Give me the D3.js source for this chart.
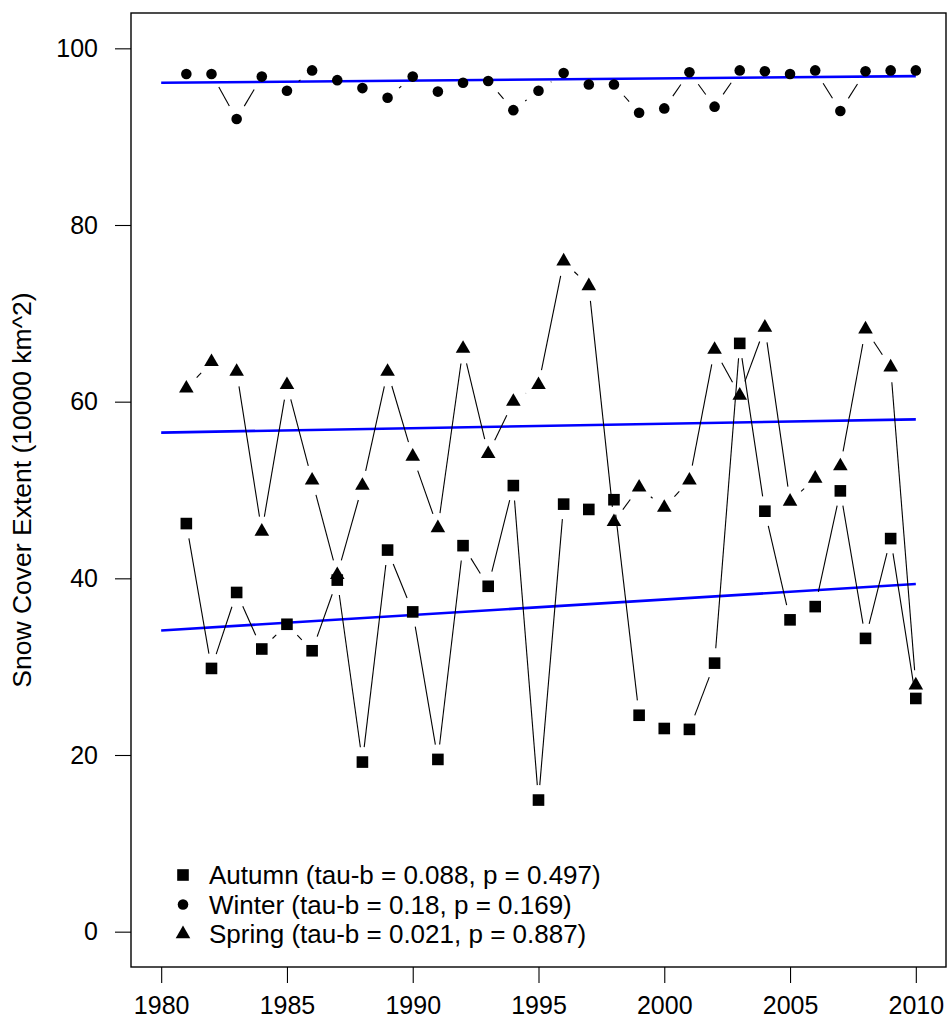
<!DOCTYPE html>
<html>
<head>
<meta charset="utf-8">
<script src="https://cdn.jsdelivr.net/npm/d3@7"></script>
<style>
  body { margin: 0; background: #fff; }
  svg text { font-family: "Liberation Sans", Arial, sans-serif; fill: #000; }
</style>
</head>
<body>
<div id="chart"></div>
<script>
// seasonal snow cover extent, 10000 km^2
const years = [1981, 1982, 1983, 1984, 1985, 1986, 1987, 1988, 1989, 1990,
  1991, 1992, 1993, 1994, 1995, 1996, 1997, 1998, 1999, 2000,
  2001, 2002, 2003, 2004, 2005, 2006, 2007, 2008, 2009, 2010];

const autumn = [46.2, 29.8, 38.4, 32.0, 34.8, 31.8, 39.8, 19.2, 43.2, 36.2,
  19.5, 43.7, 39.1, 50.5, 14.9, 48.4, 47.8, 48.9, 24.5, 23.0,
  22.9, 30.4, 66.6, 47.6, 35.3, 36.8, 49.9, 33.2, 44.5, 26.4];

const winter = [97.1, 97.1, 92.0, 96.8, 95.2, 97.5, 96.4, 95.5, 94.4, 96.8,
  95.1, 96.1, 96.3, 93.0, 95.2, 97.2, 95.9, 95.9, 92.7, 93.2,
  97.3, 93.4, 97.5, 97.4, 97.1, 97.5, 92.9, 97.4, 97.5, 97.5];

const spring = [61.5, 64.5, 63.4, 45.3, 61.9, 51.1, 40.4, 50.5, 63.4, 53.8,
  45.7, 66.0, 54.1, 60.0, 61.9, 75.9, 73.1, 46.4, 50.3, 48.0,
  51.1, 65.9, 60.7, 68.4, 48.7, 51.3, 52.7, 68.2, 63.9, 27.9];

// trend lines (Sen slope fit), value at first and last year
const trendYears = [1980, 2010];
const autumnTrend = [34.1, 39.35];
const winterTrend = [96.1, 96.85];
const springTrend = [56.5, 58.0];

const xTicks = [1980, 1985, 1990, 1995, 2000, 2005, 2010];
const yTicks = [0, 20, 40, 60, 80, 100];

const legendLabels = [
  "Autumn (tau-b = 0.088, p = 0.497)",
  "Winter (tau-b = 0.18, p = 0.169)",
  "Spring (tau-b = 0.021, p = 0.887)"
];

const W = 950, H = 1026;
const box = { left: 131, right: 946, top: 13, bottom: 967 };

const x = d3.scaleLinear().domain([1978.8, 2011.2]).range([box.left, box.right]);
const y = d3.scaleLinear().domain([-4, 104]).range([box.bottom, box.top]);

const svg = d3.select("#chart").append("svg")
  .attr("width", W)
  .attr("height", H);

// R style marker shapes
function marker(g, shape, cx, cy) {
  if (shape === "square") {
    g.append("rect")
      .attr("x", cx - 5.8).attr("y", cy - 5.8)
      .attr("width", 11.6).attr("height", 11.6)
      .attr("fill", "#000");
  } else if (shape === "circle") {
    g.append("circle")
      .attr("cx", cx).attr("cy", cy).attr("r", 5.3)
      .attr("fill", "#000");
  } else {
    const r = 8.4, xc = 7.3, yc = 4.2;
    g.append("path")
      .attr("d", `M${cx},${cy - r}L${cx + xc},${cy + yc}L${cx - xc},${cy + yc}Z`)
      .attr("fill", "#000");
  }
}

// trend lines
[autumnTrend, winterTrend, springTrend].forEach(t => {
  svg.append("path")
    .datum(trendYears.map((yr, i) => ({ x: yr, y: t[i] })))
    .attr("fill", "none")
    .attr("stroke", "#0000ff")
    .attr("stroke-width", 2.6)
    .attr("d", d3.line().x(d => x(d.x)).y(d => y(d.y)));
});

// type="b": segments with gaps round the points
const gap = 15;
const series = [
  { vals: autumn, shape: "square" },
  { vals: winter, shape: "circle" },
  { vals: spring, shape: "triangle" }
];

series.forEach(s => {
  const pts = years.map((yr, i) => [x(yr), y(s.vals[i])]);
  const g = svg.append("g");
  for (let i = 0; i < pts.length - 1; i++) {
    const [x1, y1] = pts[i], [x2, y2] = pts[i + 1];
    const dx = x2 - x1, dy = y2 - y1;
    const d = Math.sqrt(dx * dx + dy * dy);
    if (d <= 2 * gap) continue;
    const ux = dx / d, uy = dy / d;
    g.append("line")
      .attr("x1", x1 + ux * gap).attr("y1", y1 + uy * gap)
      .attr("x2", x2 - ux * gap).attr("y2", y2 - uy * gap)
      .attr("stroke", "#000")
      .attr("stroke-width", 1.1);
  }
  pts.forEach(p => marker(g, s.shape, p[0], p[1]));
});

// box
svg.append("rect")
  .attr("x", box.left).attr("y", box.top)
  .attr("width", box.right - box.left).attr("height", box.bottom - box.top)
  .attr("fill", "none")
  .attr("stroke", "#000")
  .attr("stroke-width", 1.4);

// axes
const xAxis = svg.append("g")
  .attr("transform", `translate(0,${box.bottom})`)
  .call(d3.axisBottom(x).tickValues(xTicks).tickFormat(d3.format("d")).tickSize(16).tickPadding(13));
xAxis.select(".domain").remove();
xAxis.selectAll("line").attr("stroke", "#000").attr("stroke-width", 1.1);
xAxis.selectAll("text").attr("font-size", 25).attr("font-family", null).attr("fill", "#000");

const yAxis = svg.append("g")
  .attr("transform", `translate(${box.left},0)`)
  .call(d3.axisLeft(y).tickValues(yTicks).tickSize(16).tickPadding(17));
yAxis.select(".domain").remove();
yAxis.selectAll("line").attr("stroke", "#000").attr("stroke-width", 1.1);
yAxis.selectAll("text").attr("font-size", 25).attr("font-family", null).attr("fill", "#000");

// y title
svg.append("text")
  .attr("transform", `translate(31,${(box.top + box.bottom) / 2}) rotate(-90)`)
  .attr("text-anchor", "middle")
  .attr("font-size", 26.5)
  .text("Snow Cover Extent (10000 km^2)");

// legend
const legend = svg.append("g");
const shapes = ["square", "circle", "triangle"];
legendLabels.forEach((lab, i) => {
  const by = 884 + i * 29.5;
  marker(legend, shapes[i], 183, by - 9);
  legend.append("text")
    .attr("x", 209).attr("y", by)
    .attr("font-size", 26)
    .text(lab);
});
</script>
</body>
</html>
